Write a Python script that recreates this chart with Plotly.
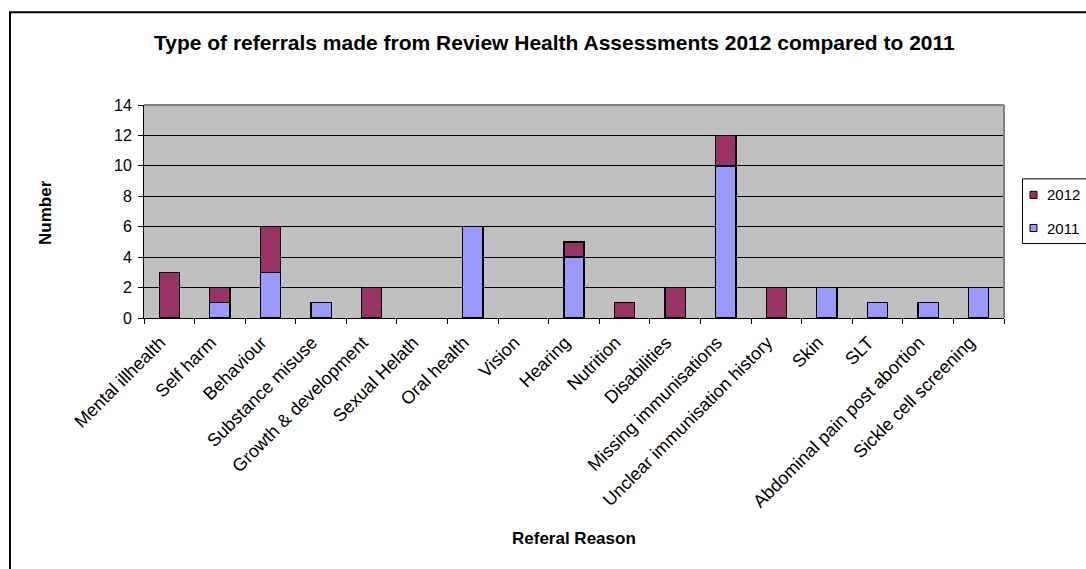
import plotly.graph_objects as go

categories = ["Mental illhealth", "Self harm", "Behaviour", "Substance misuse",
              "Growth & development", "Sexual Helath", "Oral health", "Vision",
              "Hearing", "Nutrition", "Disabilities", "Missing immunisations",
              "Unclear immunisation history", "Skin", "SLT",
              "Abdominal pain post abortion", "Sickle cell screening"]
values_2011 = [0, 1, 3, 1, 0, 0, 6, 0, 4, 0, 0, 10, 0, 2, 1, 1, 2]
values_2012 = [3, 1, 3, 0, 2, 0, 0, 0, 1, 1, 2, 2, 2, 0, 0, 0, 0]
y_ticks = [0, 2, 4, 6, 8, 10, 12, 14]
series_names = ["2011", "2012"]
series_colors = ["#9999FF", "#993366"]

FONT = "Liberation Sans, Arial, sans-serif"
W, H = 1086, 569
L, R, T, B = 144, 1004, 105.4, 317.7
PW, PH = R - L, B - T


def px(x):
    return (x - L) / PW


def py(y):
    return (B - y) / PH


fig = go.Figure()
for name, vals, col in zip(series_names, [values_2011, values_2012], series_colors):
    # zero-height segments are not drawn (no stray outline)
    fig.add_trace(go.Bar(x=categories, y=[v if v else None for v in vals], name=name,
                         marker=dict(color=col, line=dict(color="black", width=1.3))))

fig.update_layout(
    barmode="stack",
    bargap=0.6,
    width=W, height=H,
    margin=dict(l=L, r=W - R, t=T, b=H - B, autoexpand=False),
    paper_bgcolor="white",
    plot_bgcolor="#C0C0C0",
    font=dict(family=FONT, color="black", size=15),
    showlegend=False,
)

fig.update_xaxes(
    tickangle=-45, tickson="boundaries", ticks="outside", ticklen=5,
    tickcolor="black", showline=True, linecolor="black", linewidth=1,
    showgrid=False, tickfont=dict(size=18, family=FONT),
    ticklabelshift=-9, ticklabelstandoff=6,
)
fig.update_yaxes(
    range=[0, 14], tickvals=y_ticks, ticks="outside", ticklen=5, tickcolor="black",
    showline=True, linecolor="black", linewidth=1,
    showgrid=True, gridcolor="black", gridwidth=1, zeroline=False,
    tickfont=dict(size=16, family=FONT), ticklabelstandoff=3,
)

# plot-area border (gray) and outer chart border
fig.add_shape(type="line", xref="paper", yref="paper", x0=0, y0=1, x1=1, y1=1,
              line=dict(color="#808080", width=2), layer="above")
fig.add_shape(type="line", xref="paper", yref="paper", x0=1, y0=0, x1=1, y1=1,
              line=dict(color="#808080", width=2), layer="above")
fig.add_shape(type="rect", xref="paper", yref="paper",
              x0=px(10), x1=px(1095), y0=py(580), y1=py(13),
              line=dict(color="black", width=2), layer="above")

# title and axis titles
fig.add_annotation(text="<b>Type of referrals made from Review Health Assessments 2012 compared to 2011</b>",
                   xref="paper", yref="paper", x=px(554.5), y=py(43), showarrow=False,
                   xanchor="center", yanchor="middle", font=dict(size=21, family=FONT))
fig.add_annotation(text="<b>Referal Reason</b>", xref="paper", yref="paper",
                   x=px(574), y=py(537), showarrow=False,
                   xanchor="center", yanchor="middle", font=dict(size=17, family=FONT))
fig.add_annotation(text="<b>Number</b>", xref="paper", yref="paper",
                   x=px(46), y=py(213), showarrow=False, textangle=-90,
                   xanchor="center", yanchor="middle", font=dict(size=17, family=FONT))

# legend (drawn as in the reference: 2012 above 2011)
fig.add_shape(type="rect", xref="paper", yref="paper",
              x0=px(1022.5), x1=px(1095), y0=py(243.5), y1=py(179),
              line=dict(color="black", width=1), fillcolor="white", layer="above")
for i, (name, col) in enumerate(zip(series_names[::-1], series_colors[::-1])):
    cy = 195 + i * 33
    fig.add_shape(type="rect", xref="paper", yref="paper",
                  x0=px(1030), x1=px(1037), y0=py(cy + 3.5), y1=py(cy - 3.5),
                  line=dict(color="black", width=1), fillcolor=col, layer="above")
    fig.add_annotation(text=name, xref="paper", yref="paper", x=px(1045), y=py(cy),
                       showarrow=False, xanchor="left", yanchor="middle",
                       font=dict(size=15, family=FONT))

fig.write_html("out.html", config={"displayModeBar": False},
               post_script="document.body.style.margin='0';")
